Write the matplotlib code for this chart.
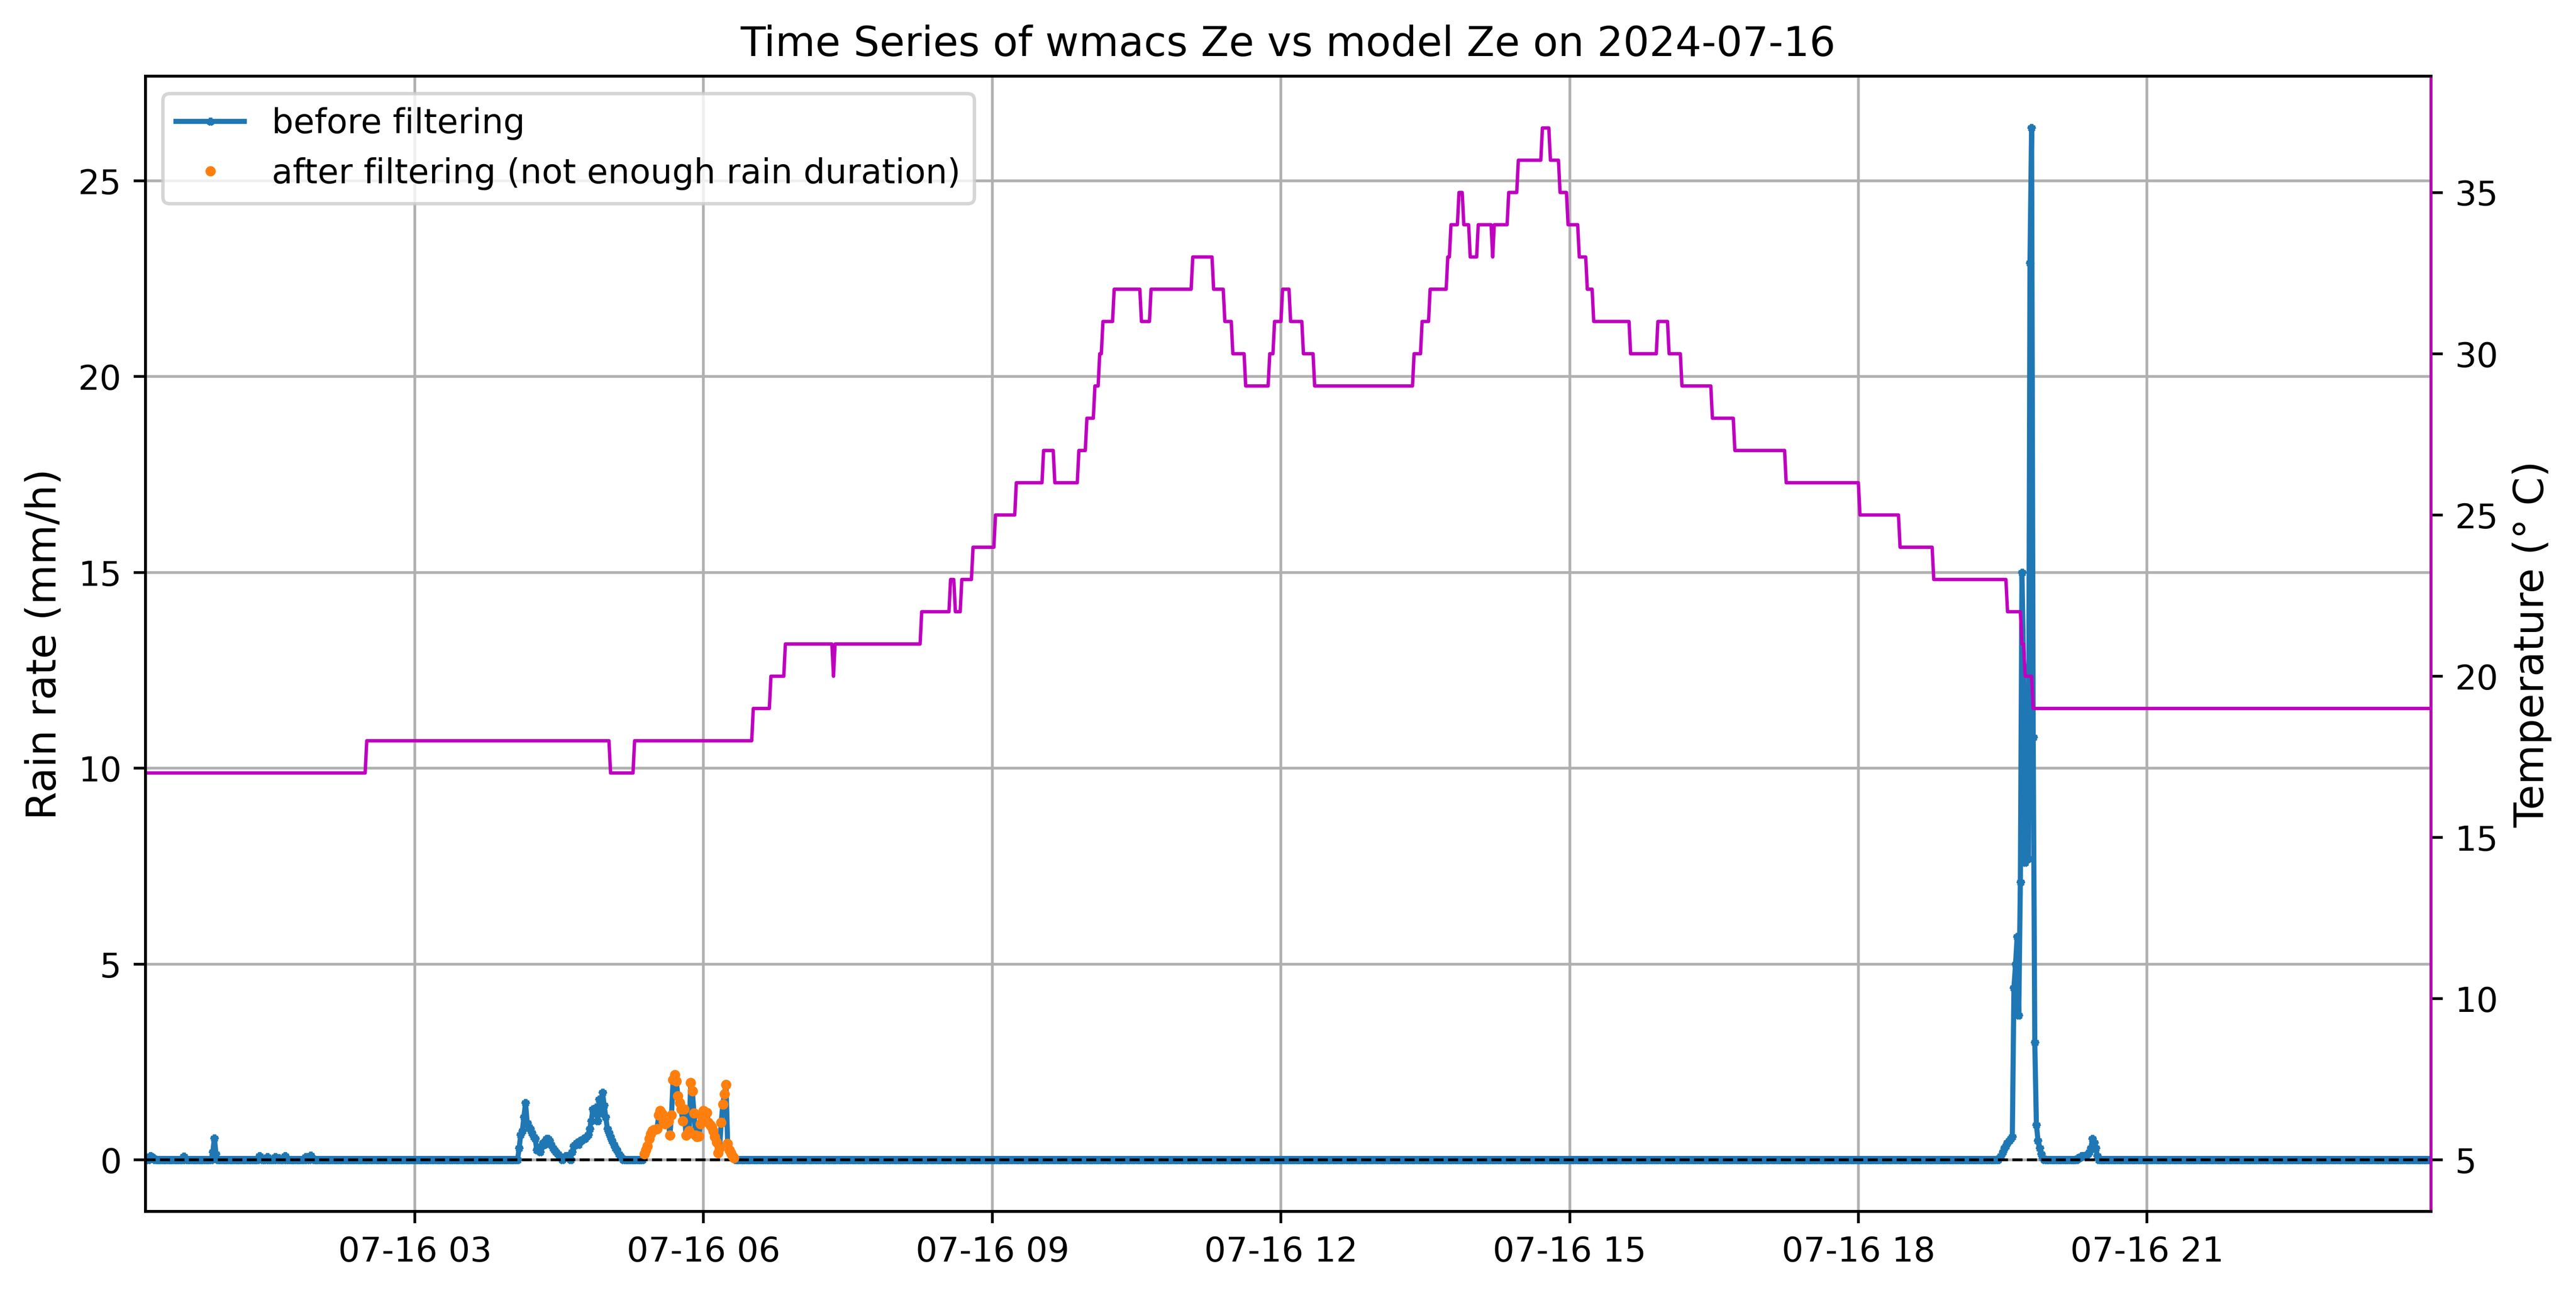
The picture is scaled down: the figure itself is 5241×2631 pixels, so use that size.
import numpy as np
import pandas as pd
import matplotlib
matplotlib.use("Agg")
import matplotlib.pyplot as plt

day = "2024-07-16"
t_start, t_end = "00:12", "23:57"

# temperature: time at which a new value starts (degC), 1-min data
temp_change_times = ["00:12", "02:30", "05:02", "05:17", "06:31", "06:42", "06:51",
                     "07:21", "07:22", "08:16", "08:34", "08:37", "08:41", "08:48",
                     "09:02", "09:15", "09:32", "09:39", "09:54", "09:59", "10:04",
                     "10:07", "10:09", "10:16", "10:33", "10:39", "11:05", "11:18",
                     "11:25", "11:30", "11:38", "11:53", "11:56", "12:01", "12:06",
                     "12:14", "12:21", "13:23", "13:28", "13:33", "13:44", "13:46",
                     "13:51", "13:54", "13:58", "14:03", "14:12", "14:13", "14:22",
                     "14:28", "14:43", "14:48", "14:54", "14:59", "15:06", "15:11",
                     "15:15", "15:38", "15:55", "16:02", "16:10", "16:29", "16:43",
                     "17:15", "18:01", "18:26", "18:47", "19:33", "19:42", "19:44",
                     "19:49"]
temp_change_vals = [17, 18, 17, 18, 19, 20, 21,
                    20, 21, 22, 23, 22, 23, 24,
                    25, 26, 27, 26, 27, 28, 29,
                    30, 31, 32, 31, 32, 33, 32,
                    31, 30, 29, 30, 31, 32, 31,
                    30, 29, 30, 31, 32, 33, 34,
                    35, 34, 33, 34, 33, 34, 35,
                    36, 37, 36, 35, 34, 33, 32,
                    31, 30, 31, 30, 29, 28, 27,
                    26, 25, 24, 23, 22, 21, 20,
                    19]

# rain rate (mm/h), 1-min data, zero outside these
early_times = ["00:13", "00:15", "00:16", "00:17", "00:36", "00:54", "00:55", "00:56",
               "01:23", "01:24", "01:28", "01:33", "01:35", "01:39", "01:52", "01:55",
               "01:56"]
early_vals = [0.05, 0.1, 0.08, 0.05, 0.09, 0.2, 0.56, 0.15,
              0.1, 0.05, 0.08, 0.08, 0.05, 0.1, 0.08, 0.12,
              0.05]

ev1_start = "04:05"
ev1_vals = [0.3, 0.65, 0.75, 1.1, 1.46, 0.95, 0.85, 0.8, 0.7, 0.6,
            0.55, 0.25, 0.3, 0.2, 0.35, 0.45, 0.4, 0.55, 0.55, 0.5,
            0.4, 0.3, 0.25, 0.2, 0.15, 0.1, 0.05, 0.0, 0.05, 0.1,
            0.1, 0.05, 0.0, 0.2, 0.35, 0.4, 0.45, 0.4, 0.5, 0.5,
            0.55, 0.55, 0.6, 0.65, 0.8, 1.0, 1.3, 1.2, 1.35, 1.0,
            1.55, 1.2, 1.72, 1.4, 1.1, 0.8, 0.7, 0.6, 0.5, 0.4,
            0.3, 0.25, 0.15, 0.1, 0.05]

# this one gets flagged by the filter (not enough rain duration)
ev2_start = "05:23"
ev2_vals = [0.15, 0.25, 0.36, 0.55, 0.67, 0.75, 0.77, 0.78, 0.79, 1.15,
            1.26, 1.19, 0.98, 0.92, 0.95, 0.98, 0.63, 1.15, 2.05, 2.18,
            2.01, 1.63, 1.46, 1.30, 1.00, 1.30, 0.63, 0.67, 0.75, 1.97,
            1.76, 1.20, 0.63, 0.60, 0.61, 0.92, 1.10, 1.26, 1.21, 1.21,
            0.96, 0.90, 0.84, 0.75, 0.60, 0.46, 0.18, 0.30, 0.96, 1.42,
            1.69, 1.92, 0.42, 0.25, 0.18, 0.10, 0.05]

ev3_start = "19:28"
ev3_vals = [0.05, 0.1, 0.2, 0.3, 0.35, 0.45, 0.5, 0.55, 0.6,
            4.4, 5.0, 5.7, 3.7, 7.1, 15.0, 12.6, 7.6, 11.9, 7.7,
            22.9, 26.35, 10.8, 3.0, 0.9, 0.5, 0.3, 0.15, 0.05]

ev4_start = "20:17"
ev4_vals = [0.05, 0.05, 0.1, 0.1, 0.1, 0.1, 0.15, 0.2, 0.3, 0.55, 0.45, 0.3, 0.1]


def ts(hhmm):
    return pd.Timestamp(f"{day} {hhmm}")


times = pd.date_range(ts(t_start), ts(t_end), freq="min")

rain = pd.Series(0.0, index=times)
for t, v in zip(early_times, early_vals):
    rain[ts(t)] = v


def put(start, vals):
    idx = pd.date_range(ts(start), periods=len(vals), freq="min")
    rain[idx] = vals
    return idx


put(ev1_start, ev1_vals)
idx2 = put(ev2_start, ev2_vals)
put(ev3_start, ev3_vals)
put(ev4_start, ev4_vals)
filtered = rain[idx2]

temp = pd.Series(np.nan, index=times)
temp[pd.DatetimeIndex([ts(t) for t in temp_change_times])] = temp_change_vals
temp = temp.ffill()

fig, ax1 = plt.subplots(figsize=(12, 6))
ax1.plot(rain.index, rain.values, marker="*", markersize=2, label="before filtering")
ax1.axhline(0, color="k", linestyle="--", linewidth=0.8)
ax1.plot(filtered.index, filtered.values, "o", markersize=2,
         label="after filtering (not enough rain duration)")
ax1.set_xlim(times[0], times[-1])
ax1.set_ylabel("Rain rate (mm/h)", fontsize=12)
ax1.grid(True)
ax1.legend(loc="upper left")
ax1.set_title(f"Time Series of wmacs Ze vs model Ze on {day}")

ax2 = ax1.twinx()
ax2.plot(temp.index, temp.values, color="m", linewidth=1)
ax2.set_ylim(3.4, 38.6)
ax2.set_ylabel("Temperature (° C)", fontsize=12)
ax2.spines["right"].set_color("m")

plt.savefig("out.png", dpi=500, bbox_inches="tight")
